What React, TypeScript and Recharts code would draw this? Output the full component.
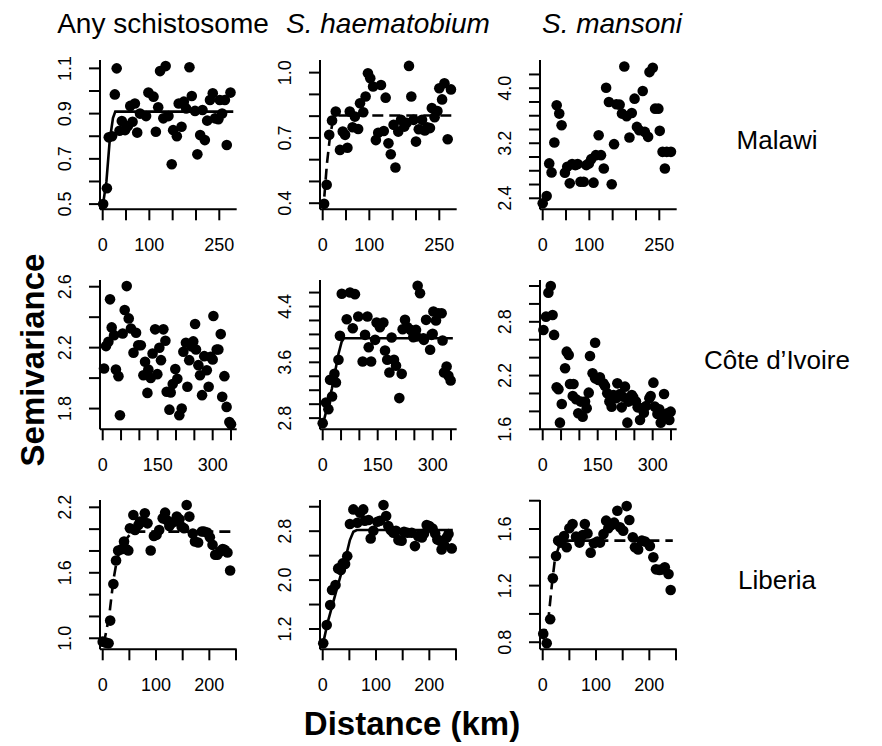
import React from "react";
import { ScatterChart, Scatter, XAxis, YAxis } from "recharts";

type Pt = [number, number];

// ---- Malawi ----
const malawiAny: Pt[] = [
  [1, 0.5], [9, 0.57], [13, 0.795], [20, 0.8], [26, 0.985], [30, 1.1], [36, 0.824], [41, 0.867],
  [48, 0.827], [54, 0.845], [59, 0.934], [64, 0.864], [69, 0.945], [74, 0.816], [80, 0.9], [93, 0.889],
  [98, 0.993], [109, 0.975], [114, 0.82], [119, 0.928], [123, 1.088], [130, 0.879], [135, 1.11], [141, 0.889],
  [148, 0.676], [151, 0.827], [159, 0.8], [163, 0.945], [169, 0.842], [174, 0.953], [179, 0.923], [186, 1.105],
  [191, 0.978], [198, 0.912], [203, 0.72], [209, 0.805], [214, 0.916], [219, 0.783], [224, 0.869], [230, 0.96],
  [236, 0.99], [241, 0.879], [248, 0.875], [251, 0.96], [256, 0.9], [262, 0.96], [266, 0.761], [274, 0.993],
];
const malawiAnyFit: Pt[] = [[0, 0.49], [8, 0.6], [15, 0.78], [22, 0.88], [27, 0.909], [280, 0.909]];

const malawiHaem: Pt[] = [
  [3, 0.397], [8.5, 0.485], [14, 0.714], [20, 0.78], [28, 0.821], [37, 0.645], [43, 0.729], [48, 0.714],
  [53, 0.655], [58, 0.821], [64, 0.749], [69, 0.798], [76, 0.741], [80, 0.859], [87, 0.818], [92, 0.89],
  [97, 0.997], [102, 0.974], [108, 0.936], [114, 0.69], [119, 0.724], [125, 0.943], [131, 0.732], [135, 0.885],
  [141, 0.675], [146, 0.625], [152, 0.76], [156, 0.564], [162, 0.729], [168, 0.783], [175, 0.752], [180, 0.77],
  [185, 1.031], [190, 0.89], [195, 0.783], [200, 0.683], [206, 0.74], [213, 0.783], [219, 0.734], [224, 0.749],
  [230, 0.745], [234, 0.837], [240, 0.795], [246, 0.824], [250, 0.928], [256, 0.877], [261, 0.951], [268, 0.694],
  [275, 0.923],
];
const malawiHaemFit: Pt[] = [[3.5, 0.43], [9, 0.58], [15.6, 0.706], [22, 0.78], [28, 0.803], [278, 0.803]];

const malawiMans: Pt[] = [
  [0, 2.328], [8.5, 2.434], [14, 2.907], [19, 2.776], [25, 3.211], [30, 3.751], [35.5, 3.631], [40.5, 3.462],
  [47.6, 2.772], [52.6, 2.859], [58, 2.617], [63, 2.897], [70, 2.882], [75, 2.897], [81, 2.641], [88, 2.641],
  [93.5, 2.882], [99, 2.907], [104, 2.969], [109, 2.627], [114, 3.027], [120, 3.317], [125, 3.027], [131, 2.834],
  [136, 4.007], [142, 3.8], [148, 2.603], [153, 3.187], [158, 3.766], [165, 3.761], [170, 3.631], [175, 4.316],
  [180, 3.592], [186, 3.283], [191, 3.64], [197, 3.848], [202, 3.438], [207, 3.389], [214.5, 3.959], [219, 3.365],
  [226, 3.293], [229, 4.234], [236, 4.297], [241, 3.703], [248, 3.703], [251, 3.38], [257, 3.075], [262, 2.834],
  [266, 3.075], [275, 3.075],
];

// ---- Côte d'Ivoire ----
const civAny: Pt[] = [
  [3.6, 2.063], [9, 2.21], [15.5, 2.238], [20, 2.517], [24.5, 2.333], [31, 2.282], [36, 2.056], [43, 2.013],
  [47, 1.756], [54.5, 2.293], [60, 2.447], [65.5, 2.604], [71, 2.392], [77, 2.326], [84, 2.166], [91, 2.298],
  [97, 2.216], [104, 2.216], [111, 2.019], [115.5, 2.107], [122, 1.903], [124.5, 2.056], [131, 2.001], [136, 2.162],
  [143, 2.32], [149, 2.026], [154.5, 2.199], [159, 2.118], [165.5, 2.32], [171, 2.245], [174.5, 1.91], [182, 1.793],
  [185.5, 1.906], [191, 1.961], [198, 2.06], [203.6, 1.995], [209, 1.756], [215.5, 1.8], [220, 2.173], [227, 2.232],
  [231, 1.943], [236, 2.118], [243, 2.208], [247, 2.241], [252, 2.355], [254.5, 2.188], [261, 2.085], [265.5, 2.019],
  [271, 1.888], [277, 2.144], [284, 2.052], [289, 1.943], [294.5, 2.14], [300, 2.122], [302, 2.408], [311, 2.188],
  [315.5, 2.188], [322, 2.289], [326, 1.877], [332, 2.013], [338, 1.811], [345.5, 1.712], [350, 1.697],
];

const civHaem: Pt[] = [
  [0, 2.728], [9, 3.024], [15.5, 2.929], [20, 3.349], [25.5, 3.11], [32, 3.435], [36, 3.311], [43, 3.636],
  [47, 3.98], [52, 4.582], [65.5, 4.218], [74.5, 4.6], [82, 4.089], [88, 4.577], [97, 4.257], [109, 3.612],
  [115.5, 3.994], [122, 4.257], [125.5, 3.817], [132, 3.612], [143, 3.922], [147, 4.171], [156, 4.104], [165.5, 4.171],
  [170, 3.77], [176, 3.636], [182, 3.454], [188, 3.956], [194.5, 3.636], [200, 3.55], [209, 3.087], [215.5, 3.435],
  [218, 4.075], [224.5, 4.209], [231, 4.104], [240, 4.065], [247, 3.961], [254.5, 4.065], [256, 3.97], [259, 4.696],
  [265.5, 4.591], [274.5, 3.946], [276, 3.922], [282, 4.209], [293, 3.78], [297, 3.994], [300, 4.008], [302, 4.328],
  [309, 4.199], [315.5, 4.304], [324.5, 4.304], [327, 3.913], [331, 3.454], [338, 3.54], [343, 3.406], [349, 3.339],
];
const civHaemFit: Pt[] = [[0, 2.7], [25, 3.22], [43, 3.72], [52, 3.9], [58, 3.946], [355, 3.946]];

const civMans: Pt[] = [
  [2, 2.709], [9, 2.858], [15.5, 3.126], [22, 3.2], [27, 2.877], [31, 2.654], [38, 2.069], [43, 2.047],
  [47, 1.674], [52, 1.883], [61, 2.281], [65.5, 2.467], [71, 2.43], [74.5, 2.106], [82, 1.972], [84, 2.106],
  [91, 1.935], [97, 1.779], [104, 1.909], [109, 1.741], [115.5, 1.909], [120, 1.834], [125.5, 2.009], [129, 2.419],
  [136, 2.225], [143, 2.567], [143, 2.169], [152, 2.151], [156, 2.18], [165.5, 2.113], [170, 2.084], [176, 2.002],
  [182, 1.909], [188, 1.853], [193, 1.983], [200, 1.946], [203.6, 2.113], [211, 1.994], [215.5, 1.845], [218, 1.965],
  [224.5, 2.076], [231, 1.674], [233.6, 1.909], [243, 1.983], [247, 1.957], [254.5, 1.909], [259, 1.845], [265.5, 1.704],
  [270, 1.834], [276, 1.786], [282, 1.86], [291, 1.946], [294.5, 1.972], [302, 2.121], [306, 1.853], [313, 1.771],
  [318, 1.823], [322, 1.674], [331, 1.994], [334, 1.749], [340, 1.779], [345.5, 1.704], [349, 1.797],
];

// ---- Liberia ----
const libAny: Pt[] = [
  [0, 0.969], [6, 0.96], [11, 0.954], [14, 1.162], [20, 1.498], [25, 1.712], [29, 1.804], [36, 1.817],
  [40, 1.887], [44, 1.817], [48, 1.804], [51, 2.008], [57.5, 2.13], [60.6, 1.992], [67, 2.038], [70, 2.069],
  [75, 2.069], [79, 2.145], [84, 2.053], [90, 1.804], [96, 1.938], [101, 1.948], [106, 1.992], [112.5, 2.099],
  [117, 2.151], [120, 2.084], [125, 2.029], [129, 2.053], [134, 2.069], [139, 2.115], [144, 2.09], [148, 2.023],
  [152.5, 2.008], [157.5, 2.221], [162.5, 2.115], [169, 1.96], [173, 1.887], [179, 1.877], [186, 1.978], [190, 1.978],
  [196, 1.969], [201, 1.926], [206, 1.856], [211, 1.765], [215, 1.765], [220, 1.796], [225, 1.817], [229, 1.81],
  [234, 1.786], [239, 1.621],
];
const libAnyFit: Pt[] = [[2, 0.95], [12, 1.2], [20, 1.53], [27, 1.73], [38, 1.87], [51, 1.95], [60, 1.977], [242, 1.977]];

const libHaem: Pt[] = [
  [1, 0.966], [7.5, 1.265], [14, 1.592], [17.5, 1.837], [24, 1.919], [29, 2.191], [34, 2.164], [37.5, 2.273],
  [42, 2.262], [46, 2.392], [51, 2.917], [57.5, 3.156], [65, 2.938], [70, 3.101], [76, 3.156], [79, 2.971],
  [86, 2.982], [90, 2.681], [95, 2.807], [102.5, 2.954], [107.5, 2.971], [114, 3.227], [119, 3.047], [123, 2.884],
  [127.5, 2.819], [132.5, 2.774], [137.5, 2.807], [142, 2.654], [148, 2.643], [152.5, 2.791], [159, 2.774], [167, 2.774],
  [173, 2.556], [179, 2.719], [186, 2.698], [190, 2.763], [195, 2.9], [200, 2.884], [206, 2.845], [211, 2.763],
  [215, 2.665], [220, 2.643], [223, 2.502], [227.5, 2.572], [232.5, 2.698], [236, 2.752], [242, 2.518],
];
const libHaemFit: Pt[] = [[0, 0.94], [10.6, 1.35], [26, 1.84], [42, 2.33], [51, 2.655], [57.5, 2.79], [64, 2.819], [244, 2.819]];

const libMans: Pt[] = [
  [1, 0.859], [7.5, 0.793], [14, 0.962], [19, 1.252], [25, 1.409], [29, 1.518], [34, 1.504], [40, 1.551],
  [45, 1.471], [50, 1.605], [56, 1.635], [62.5, 1.546], [69, 1.504], [75, 1.558], [79, 1.635], [84, 1.569],
  [90, 1.433], [96, 1.499], [102.5, 1.511], [107.5, 1.504], [114, 1.565], [119, 1.659], [123, 1.605], [129, 1.628],
  [134, 1.645], [140, 1.729], [145, 1.612], [151, 1.588], [157.5, 1.762], [162.5, 1.664], [169, 1.541], [173, 1.471],
  [179, 1.456], [186, 1.518], [192, 1.511], [201, 1.48], [207.5, 1.4], [212.5, 1.315], [219, 1.311], [225, 1.315],
  [229, 1.329], [236, 1.282], [240, 1.169],
];
const libMansFit: Pt[] = [[0, 0.82], [10.6, 0.96], [17, 1.2], [23, 1.39], [32.5, 1.5], [45, 1.518], [244, 1.518]];

// ---- axes ----
const xTicksTop = [0, 50, 100, 150, 200, 250];
const xLabelsTop = [0, 100, 250];
const xTicksMid = [0, 50, 100, 150, 200, 250, 300, 350];
const xLabelsMid = [0, 150, 300];
const xTicksBot = [0, 50, 100, 150, 200, 250];
const xLabelsBot = [0, 100, 200];

const columnTitles = ["Any schistosome", "S. haematobium", "S. mansoni"];
const rowTitles = ["Malawi", "Côte d’Ivoire", "Liberia"];

const FONT = '"Liberation Sans", Arial, Helvetica, sans-serif';
const PLOT_W = 136.7;
const PLOT_H = 149.3;
const ML = 60;
const MT = 10;

type PanelProps = {
  row: number;
  col: number;
  points: Pt[];
  fit?: Pt[];
  dashed?: boolean;
  xDomain: [number, number];
  xTicks: number[];
  xLabels: number[];
  yDomain: [number, number];
  yTicks: number[];
  yLabels: number[];
};

const has = (arr: number[], v: number) => arr.some((a) => Math.abs(a - v) < 1e-9);

const Panel = (p: PanelProps) => {
  const pts = p.points.map(([x, y]) => ({ x, y }));
  const fit = p.fit ? p.fit.map(([x, y]) => ({ x, y })) : null;
  const axisStyle = { stroke: "#000", strokeWidth: 2 };
  return (
    <div style={{ position: "absolute", left: 100 + 220 * p.col - ML, top: 60 + 220 * p.row - MT }}>
      <ScatterChart
        width={ML + PLOT_W + 10}
        height={MT + PLOT_H + 50}
        margin={{ top: MT, right: 10, bottom: 0, left: 0 }}
      >
        <XAxis
          type="number"
          dataKey="x"
          domain={p.xDomain}
          ticks={p.xTicks}
          interval={0}
          height={50}
          tickSize={11}
          axisLine={axisStyle}
          tickLine={axisStyle}
          tick={(t: any) =>
            has(p.xLabels, t.payload.value) ? (
              <text x={t.x} y={MT + PLOT_H + 42} textAnchor="middle" fontSize={18} fontFamily={FONT} fill="#000">
                {t.payload.value}
              </text>
            ) : (
              <g />
            )
          }
        />
        <YAxis
          type="number"
          dataKey="y"
          domain={p.yDomain}
          ticks={p.yTicks}
          interval={0}
          width={ML}
          tickSize={11}
          axisLine={axisStyle}
          tickLine={axisStyle}
          tick={(t: any) =>
            has(p.yLabels, t.payload.value) ? (
              <text
                x={ML - 29}
                y={t.y}
                transform={`rotate(-90 ${ML - 29} ${t.y})`}
                textAnchor="middle"
                fontSize={18}
                fontFamily={FONT}
                fill="#000"
              >
                {Number(t.payload.value).toFixed(1)}
              </text>
            ) : (
              <g />
            )
          }
        />
        {fit && (
          <Scatter
            data={fit}
            fill="#000"
            isAnimationActive={false}
            line={{ stroke: "#000", strokeWidth: 2.6, strokeDasharray: p.dashed ? "11 6" : undefined }}
            shape={() => <g />}
          />
        )}
        <Scatter
          data={pts}
          fill="#000"
          isAnimationActive={false}
          shape={(s: any) => <circle cx={s.cx} cy={s.cy} r={5.3} fill="#000" />}
        />
      </ScatterChart>
    </div>
  );
};

export default function App() {
  return (
    <div style={{ position: "absolute", left: 0, top: 0, width: 882, height: 746, background: "#fff" }}>
      <Panel row={0} col={0} points={malawiAny} fit={malawiAnyFit}
        xDomain={[-5.8, 287.3]} xTicks={xTicksTop} xLabels={xLabelsTop}
        yDomain={[0.477, 1.137]} yTicks={[0.5, 0.6, 0.7, 0.8, 0.9, 1.0, 1.1]} yLabels={[0.5, 0.7, 0.9, 1.1]} />
      <Panel row={0} col={1} points={malawiHaem} fit={malawiHaemFit} dashed
        xDomain={[-5.8, 287.3]} xTicks={xTicksTop} xLabels={xLabelsTop}
        yDomain={[0.372, 1.058]} yTicks={[0.4, 0.5, 0.6, 0.7, 0.8, 0.9, 1.0]} yLabels={[0.4, 0.7, 1.0]} />
      <Panel row={0} col={2} points={malawiMans}
        xDomain={[-5.8, 287.3]} xTicks={xTicksTop} xLabels={xLabelsTop}
        yDomain={[2.24, 4.41]} yTicks={[2.4, 2.6, 2.8, 3.0, 3.2, 3.4, 3.6, 3.8, 4.0, 4.2]} yLabels={[2.4, 3.2, 4.0]} />

      <Panel row={1} col={0} points={civAny}
        xDomain={[-7.4, 365.5]} xTicks={xTicksMid} xLabels={xLabelsMid}
        yDomain={[1.664, 2.644]} yTicks={[1.8, 2.0, 2.2, 2.4, 2.6]} yLabels={[1.8, 2.2, 2.6]} />
      <Panel row={1} col={1} points={civHaem} fit={civHaemFit}
        xDomain={[-7.4, 365.5]} xTicks={xTicksMid} xLabels={xLabelsMid}
        yDomain={[2.64, 4.78]} yTicks={[2.8, 3.0, 3.2, 3.4, 3.6, 3.8, 4.0, 4.2, 4.4, 4.6]} yLabels={[2.8, 3.6, 4.4]} />
      <Panel row={1} col={2} points={civMans}
        xDomain={[-7.4, 365.5]} xTicks={xTicksMid} xLabels={xLabelsMid}
        yDomain={[1.6, 3.267]} yTicks={[1.6, 1.8, 2.0, 2.2, 2.4, 2.6, 2.8, 3.0, 3.2]} yLabels={[1.6, 2.2, 2.8]} />

      <Panel row={2} col={0} points={libAny} fit={libAnyFit} dashed
        xDomain={[-5.1, 251.3]} xTicks={xTicksBot} xLabels={xLabelsBot}
        yDomain={[0.899, 2.267]} yTicks={[1.0, 1.2, 1.4, 1.6, 1.8, 2.0, 2.2]} yLabels={[1.0, 1.6, 2.2]} />
      <Panel row={2} col={1} points={libHaem} fit={libHaemFit}
        xDomain={[-5.1, 251.3]} xTicks={xTicksBot} xLabels={xLabelsBot}
        yDomain={[0.868, 3.31]} yTicks={[1.2, 1.6, 2.0, 2.4, 2.8, 3.2]} yLabels={[1.2, 2.0, 2.8]} />
      <Panel row={2} col={2} points={libMans} fit={libMansFit} dashed
        xDomain={[-5.1, 251.3]} xTicks={xTicksBot} xLabels={xLabelsBot}
        yDomain={[0.75, 1.805]} yTicks={[0.8, 1.0, 1.2, 1.4, 1.6, 1.8]} yLabels={[0.8, 1.2, 1.6]} />

      <svg width={882} height={746} style={{ position: "absolute", left: 0, top: 0, pointerEvents: "none" }}>
        {columnTitles.map((t, i) => (
          <text key={t} x={[163, 388, 612][i]} y={33} textAnchor="middle" fontSize={28} fontFamily={FONT}
            fontStyle={i === 0 ? "normal" : "italic"} fill="#000">
            {t}
          </text>
        ))}
        {rowTitles.map((t, i) => (
          <text key={t} x={777} y={149 + 220 * i} textAnchor="middle" fontSize={26} fontFamily={FONT} fill="#000">
            {t}
          </text>
        ))}
        <text x={44} y={360} transform="rotate(-90 44 360)" textAnchor="middle" fontSize={33} fontWeight="bold"
          fontFamily={FONT} fill="#000">
          Semivariance
        </text>
        <text x={412} y={735} textAnchor="middle" fontSize={33} fontWeight="bold" fontFamily={FONT} fill="#000">
          Distance (km)
        </text>
      </svg>
    </div>
  );
}
